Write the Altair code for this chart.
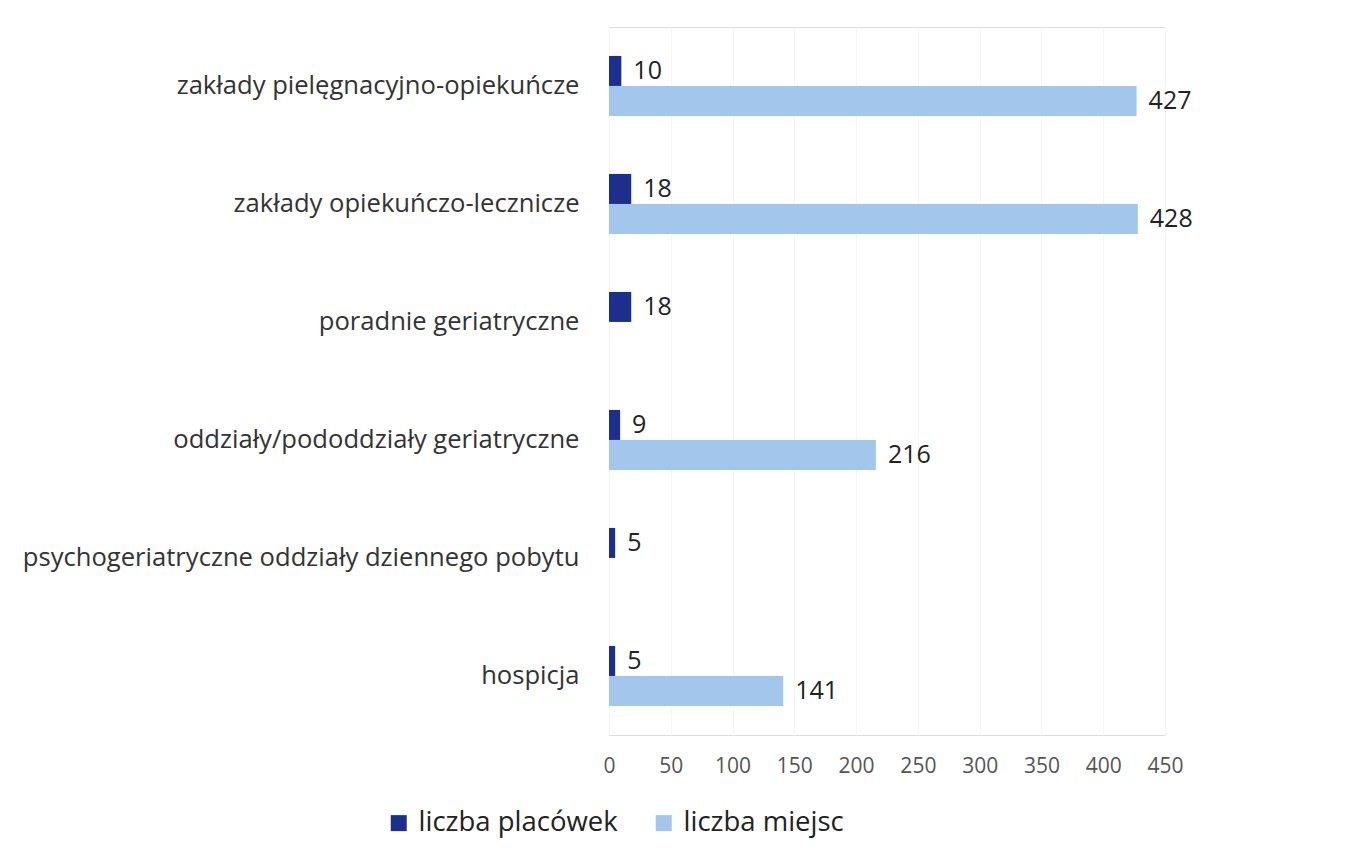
import altair as alt
import pandas as pd

categories = [
    "zakłady pielęgnacyjno-opiekuńcze",
    "zakłady opiekuńczo-lecznicze",
    "poradnie geriatryczne",
    "oddziały/pododdziały geriatryczne",
    "psychogeriatryczne oddziały dziennego pobytu",
    "hospicja",
]
series = ["liczba placówek", "liczba miejsc"]
placowki = [10, 18, 18, 9, 5, 5]
miejsca = [427, 428, None, 216, None, 141]
x_ticks = [0, 50, 100, 150, 200, 250, 300, 350, 400, 450]
colors = ["#1c2f8c", "#a3c7ec"]

rows = []
for c, p, m in zip(categories, placowki, miejsca):
    rows.append({"kategoria": c, "seria": series[0], "wartosc": p})
    if m is not None:
        rows.append({"kategoria": c, "seria": series[1], "wartosc": m})
df = pd.DataFrame(rows)

FONT = "Open Sans"

y_enc = alt.Y(
    "kategoria:N",
    sort=categories,
    scale=alt.Scale(paddingInner=0.49, paddingOuter=0.245),
    axis=alt.Axis(
        title=None, domain=False, ticks=False, labelFontSize=25.6,
        labelColor="#333333", labelPadding=30, labelFont=FONT, labelLimit=700,
    ),
)
x_enc = alt.X(
    "wartosc:Q",
    scale=alt.Scale(domain=[0, 450], nice=False),
    axis=alt.Axis(
        title=None, values=x_ticks, domain=False, ticks=False,
        labelFontSize=21, labelColor="#555555", labelPadding=20, labelFont=FONT,
        labelFlush=False, grid=True, gridColor="#f6f6f6",
    ),
)

bars = alt.Chart(df).mark_bar(size=30).encode(
    y=y_enc,
    x=x_enc,
    yOffset=alt.YOffset("seria:N", sort=series),
    color=alt.Color(
        "seria:N",
        scale=alt.Scale(domain=series, range=colors),
        legend=alt.Legend(
            title=None, orient="none", direction="horizontal",
            legendX=-224, legendY=782, symbolType="square", symbolSize=256,
            symbolStrokeWidth=0, labelFontSize=27.5, labelFont=FONT,
            labelColor="#222222", columnPadding=32, labelOffset=6,
            labelLimit=400,
        ),
    ),
)

labels = alt.Chart(df).mark_text(
    align="left", baseline="middle", dx=12, fontSize=25, font=FONT, color="#222222"
).encode(
    y=alt.Y("kategoria:N", sort=categories),
    x="wartosc:Q",
    yOffset=alt.YOffset("seria:N", sort=series),
    text="wartosc:Q",
)

chart = (
    alt.layer(bars, labels)
    .properties(
        width=556, height=708,
        autosize=alt.AutoSizeParams(type="none"),
        padding={"left": 601, "top": 19, "right": 180, "bottom": 110},
    )
    .configure_view(stroke=None)
    .configure(background="white")
)

chart.save("out.html", embed_options={"renderer": "svg", "actions": False})
